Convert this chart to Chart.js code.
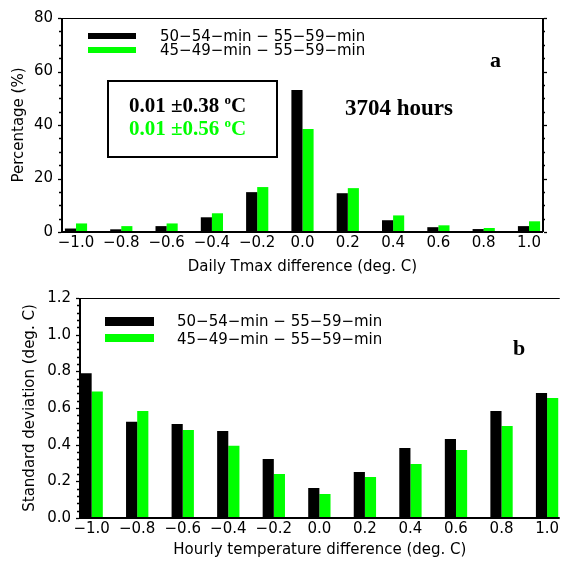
<!DOCTYPE html>
<html><head><meta charset="utf-8">
<script src="https://cdn.jsdelivr.net/npm/chart.js@4/dist/chart.umd.min.js"></script>
<style>
html,body{margin:0;padding:0;background:#fff;width:561px;height:562px;overflow:hidden}
canvas{position:absolute;left:0}
#ca{top:0}
#cb{top:280px}
</style>
</head><body>
<canvas id="ca" width="561" height="280"></canvas>
<canvas id="cb" width="561" height="282"></canvas>
<script>
// ---- data ----
const diffs = [-1.0, -0.8, -0.6, -0.4, -0.2, 0.0, 0.2, 0.4, 0.6, 0.8, 1.0];
const dailyBlack = [1.3, 1.0, 2.2, 5.5, 14.9, 53.1, 14.5, 4.4, 1.8, 1.1, 2.2];
const dailyGreen = [3.2, 2.2, 3.2, 7.0, 16.8, 38.5, 16.4, 6.2, 2.5, 1.5, 4.0];
const hourlyBlack = [0.79, 0.525, 0.513, 0.475, 0.322, 0.164, 0.251, 0.382, 0.431, 0.584, 0.682];
const hourlyGreen = [0.69, 0.584, 0.48, 0.394, 0.24, 0.131, 0.224, 0.295, 0.371, 0.502, 0.655];
const pctTicks = [0, 20, 40, 60, 80];
const sdTicks = [0.0, 0.2, 0.4, 0.6, 0.8, 1.0, 1.2];
const legendLabels = ['50\u221254\u2212min \u2212 55\u221259\u2212min', '45\u221249\u2212min \u2212 55\u221259\u2212min'];
const seriesColors = ['#000000', '#00ff00'];

const SANS = '"DejaVu Sans", sans-serif';
const SERIF = '"Liberation Serif", "Times New Roman", serif';
const FS = 15;

function fmtX(v) {
  const r = Math.round(v * 10) / 10;
  if (Math.abs(r) < 1e-9) return '0.0';
  return (r < 0 ? '\u2212' : '') + Math.abs(r).toFixed(1);
}
function pts(xs, ys) { return xs.map((x, i) => ({x: x, y: ys[i]})); }

function drawSup(ctx, x, y, size, main, sup, tail) {
  ctx.font = 'bold ' + size + 'px ' + SERIF;
  ctx.fillText(main, x, y);
  x += ctx.measureText(main).width;
  const s = Math.round(size * 0.62);
  ctx.font = 'bold ' + s + 'px ' + SERIF;
  ctx.fillText(sup, x, y - size * 0.36);
  x += ctx.measureText(sup).width;
  ctx.font = 'bold ' + size + 'px ' + SERIF;
  ctx.fillText(tail, x, y);
}

function framePlugin(cfg) {
  return {
    id: 'frame' + cfg.name,
    afterDraw(chart) {
      const ctx = chart.ctx;
      const a = chart.chartArea;
      const ys = chart.scales.y;
      ctx.save();
      ctx.strokeStyle = '#000';
      ctx.lineWidth = 1.2;
      ctx.beginPath(); ctx.moveTo(a.left, a.top + 0.5); ctx.lineTo(a.right, a.top + 0.5); ctx.stroke();
      ctx.lineWidth = 2;
      ctx.beginPath(); ctx.moveTo(a.left, a.top); ctx.lineTo(a.left, a.bottom); ctx.stroke();
      ctx.beginPath(); ctx.moveTo(a.left - 1, a.bottom); ctx.lineTo(a.right, a.bottom); ctx.stroke();
      if (cfg.rightAxis) {
        ctx.beginPath(); ctx.moveTo(a.right, a.top); ctx.lineTo(a.right, a.bottom); ctx.stroke();
      }
      ctx.lineWidth = 1.3;
      const n = Math.round((cfg.yMax - cfg.yMin) / cfg.minor);
      for (let i = 0; i <= n; i++) {
        const v = cfg.yMin + i * cfg.minor;
        const major = Math.abs((v / cfg.major) - Math.round(v / cfg.major)) < 1e-6;
        const py = Math.round(ys.getPixelForValue(v)) + 0.5;
        ctx.beginPath();
        ctx.moveTo(a.left - 1, py); ctx.lineTo(a.left - (major ? 4 : 3), py); ctx.stroke();
        if (cfg.rightAxis) {
          ctx.beginPath();
          ctx.moveTo(a.right + 1, py); ctx.lineTo(a.right + (major ? 4 : 2), py); ctx.stroke();
        }
      }
      ctx.textBaseline = 'middle';
      ctx.textAlign = 'left';
      ctx.font = FS + 'px ' + SANS;
      cfg.legend.forEach((L, i) => {
        ctx.fillStyle = seriesColors[i];
        ctx.fillRect(L.sx, L.sy, L.sw, L.sh);
        ctx.fillStyle = '#000';
        ctx.fillText(legendLabels[i], L.tx, L.ty);
      });
      if (cfg.extra) cfg.extra(ctx);
      ctx.restore();
    }
  };
}

function makeChart(id, cfg) {
  return new Chart(document.getElementById(id), {
    type: 'bar',
    data: {
      datasets: [
        {data: pts(diffs, cfg.black), backgroundColor: seriesColors[0], borderWidth: 0,
         categoryPercentage: 0.49, barPercentage: 1.0},
        {data: pts(diffs, cfg.green), backgroundColor: seriesColors[1], borderWidth: 0,
         categoryPercentage: 0.49, barPercentage: 1.0}
      ]
    },
    options: {
      responsive: false,
      animation: false,
      devicePixelRatio: 1,
      layout: {padding: {top: cfg.padTop, right: cfg.padRight, left: 0, bottom: 0}},
      plugins: {legend: {display: false}, tooltip: {enabled: false}},
      scales: {
        x: {
          type: 'linear', min: cfg.xMin, max: cfg.xMax, offset: false,
          afterBuildTicks: s => { s.ticks = diffs.map(v => ({value: v})); },
          afterFit: s => { s.height = cfg.xHeight; },
          grid: {display: false, drawTicks: false, offset: false},
          border: {display: false},
          ticks: {padding: 2, color: '#000', font: {family: SANS, size: FS},
                  maxRotation: 0, autoSkip: false, callback: v => fmtX(v)},
          title: {display: true, text: cfg.xTitle, color: '#000',
                  font: {family: SANS, size: FS}, padding: {top: 0, bottom: cfg.xTitlePad}}
        },
        y: {
          min: cfg.yMin, max: cfg.yMax,
          afterBuildTicks: s => { s.ticks = cfg.yTicks.map(v => ({value: v})); },
          afterFit: s => { s.width = cfg.yWidth; },
          grid: {display: false, drawTicks: false},
          border: {display: false},
          ticks: {padding: 9, color: '#000', font: {family: SANS, size: FS},
                  callback: cfg.yFmt},
          title: {display: true, text: cfg.yTitle, color: '#000',
                  font: {family: SANS, size: FS}, padding: {top: cfg.yTitlePad, bottom: 0}}
        }
      }
    },
    plugins: [framePlugin(cfg)]
  });
}

makeChart('ca', {
  name: 'a', black: dailyBlack, green: dailyGreen,
  xMin: -1.0618, xMax: 1.0618, yMin: 0, yMax: 80, yTicks: pctTicks,
  yFmt: v => String(Math.round(v)), major: 20, minor: 5,
  padTop: 12, padRight: 18, xHeight: 48, yWidth: 62,
  xTitle: 'Daily Tmax difference (deg. C)', yTitle: 'Percentage (%)',
  xTitlePad: 4, yTitlePad: 10, rightAxis: true,
  legend: [
    {sx: 88, sy: 33, sw: 48, sh: 6, tx: 160, ty: 37},
    {sx: 88, sy: 47, sw: 48, sh: 6, tx: 160, ty: 51}
  ],
  extra: ctx => {
    ctx.strokeStyle = '#000'; ctx.lineWidth = 2;
    ctx.strokeRect(108, 81, 169, 76);
    ctx.textBaseline = 'alphabetic';
    ctx.fillStyle = '#000';
    drawSup(ctx, 129, 112, 21, '0.01 \u00b10.38 ', 'o', 'C');
    ctx.fillStyle = '#00ff00';
    drawSup(ctx, 129, 135, 21, '0.01 \u00b10.56 ', 'o', 'C');
    ctx.fillStyle = '#000';
    ctx.font = 'bold 23px ' + SERIF;
    ctx.fillText('3704 hours', 345, 115);
    ctx.font = 'bold 22px ' + SERIF;
    ctx.fillText('a', 490, 67);
  }
});

makeChart('cb', {
  name: 'b', black: hourlyBlack, green: hourlyGreen,
  xMin: -1.0512, xMax: 1.0556, yMin: 0, yMax: 1.2, yTicks: sdTicks,
  yFmt: v => v.toFixed(1), major: 0.2, minor: 0.04,
  padTop: 18, padRight: 0, xHeight: 44, yWidth: 80,
  xTitle: 'Hourly temperature difference (deg. C)', yTitle: 'Standard deviation (deg. C)',
  xTitlePad: 3, yTitlePad: 21, rightAxis: false,
  legend: [
    {sx: 105, sy: 37, sw: 49, sh: 9, tx: 177, ty: 42},
    {sx: 105, sy: 54, sw: 49, sh: 8, tx: 177, ty: 60}
  ],
  extra: ctx => {
    ctx.textBaseline = 'alphabetic';
    ctx.fillStyle = '#000';
    ctx.font = 'bold 22px ' + SERIF;
    ctx.fillText('b', 513, 75);
  }
});
</script>
</body></html>
